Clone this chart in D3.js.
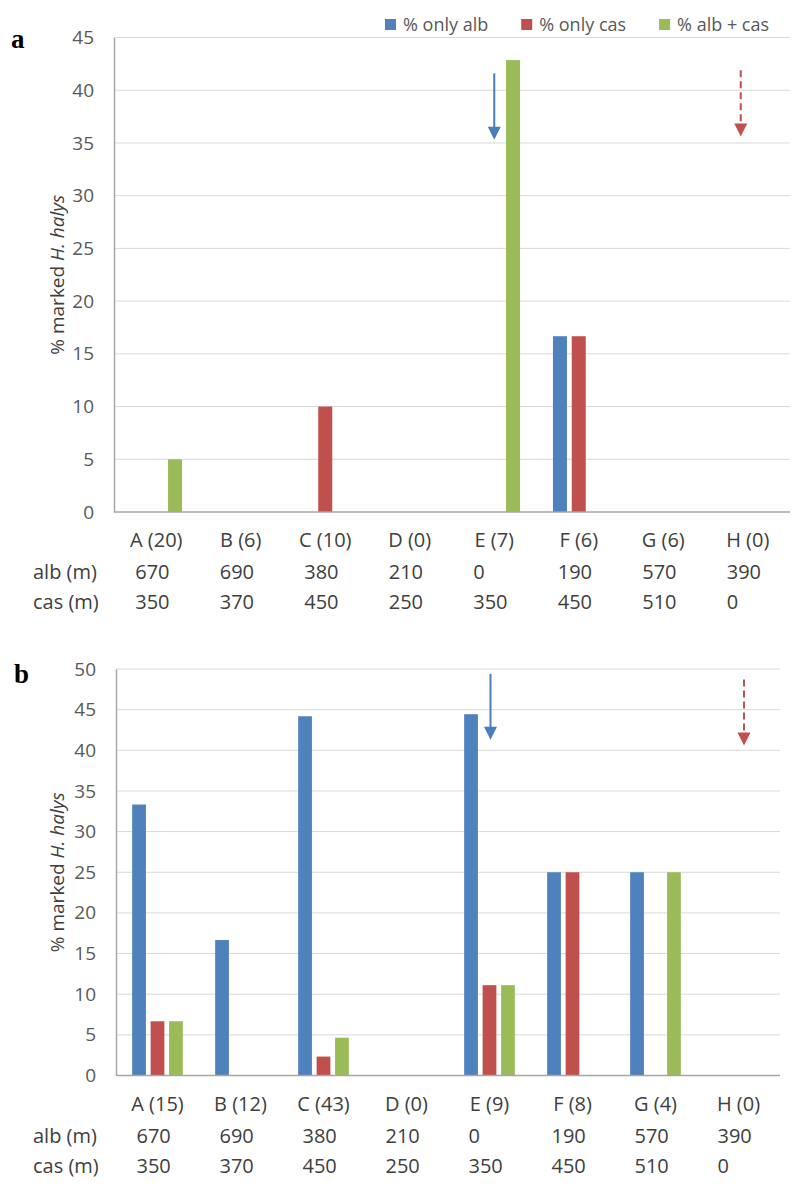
<!DOCTYPE html>
<html>
<head>
<meta charset="utf-8">
<script src="https://cdn.jsdelivr.net/npm/d3@7"></script>
<style>
  html, body { margin: 0; padding: 0; background: #fff; }
  svg { display: block; }
  text { font-family: "Open Sans", "Liberation Sans", sans-serif; }
</style>
</head>
<body>
<svg id="chart" width="799" height="1191"></svg>
<script>
// ---------------- DATA ----------------
const series = ["% only alb", "% only cas", "% alb + cas"];
const seriesColors = ["#4f81bd", "#c0504d", "#9bbb59"];

const categoriesA = ["A (20)", "B (6)", "C (10)", "D (0)", "E (7)", "F (6)", "G (6)", "H (0)"];
const onlyAlbA = [0, 0, 0, 0, 0, 16.67, 0, 0];
const onlyCasA = [0, 0, 10, 0, 0, 16.67, 0, 0];
const bothA    = [5, 0, 0, 0, 42.86, 0, 0, 0];
const yTicksA  = [0, 5, 10, 15, 20, 25, 30, 35, 40, 45];

const categoriesB = ["A (15)", "B (12)", "C (43)", "D (0)", "E (9)", "F (8)", "G (4)", "H (0)"];
const onlyAlbB = [33.33, 16.67, 44.19, 0, 44.44, 25, 25, 0];
const onlyCasB = [6.67, 0, 2.33, 0, 11.11, 25, 0, 0];
const bothB    = [6.67, 0, 4.65, 0, 11.11, 0, 25, 0];
const yTicksB  = [0, 5, 10, 15, 20, 25, 30, 35, 40, 45, 50];

const albDist = ["670", "690", "380", "210", "0", "190", "570", "390"];
const casDist = ["350", "370", "450", "250", "350", "450", "510", "0"];
const rowLabels = ["alb (m)", "cas (m)"];

// arrows: category index, value where the arrow starts and where its tip is
const arrowsA = [
  { cat: 4, from: 41.6, to: 35.3, color: "#4a7ebb", dashed: false },
  { cat: 7, from: 41.9, to: 35.6, color: "#c0504d", dashed: true }
];
const arrowsB = [
  { cat: 4, from: 49.4, to: 41.3, color: "#4a7ebb", dashed: false },
  { cat: 7, from: 48.7, to: 40.6, color: "#c0504d", dashed: true }
];

// ---------------- DRAW ----------------
const svg = d3.select("#chart");

function drawPanel(opt) {
  const g = svg.append("g");
  const x0 = d3.scaleBand().domain(d3.range(opt.categories.length))
    .range([opt.left, opt.right]).padding(0);
  const groupW = 56.4 * (x0.bandwidth() / 84.5);
  const x1 = d3.scaleBand().domain(d3.range(series.length))
    .range([x0.bandwidth() / 2 - groupW / 2, x0.bandwidth() / 2 + groupW / 2])
    .paddingInner(0.255).paddingOuter(0.1275);
  const y = d3.scaleLinear().domain([0, d3.max(opt.ticks)]).range([opt.bottom, opt.top]);

  // gridlines
  g.append("g").selectAll("line").data(opt.ticks.filter(t => t > 0)).join("line")
    .attr("x1", opt.left).attr("x2", opt.right)
    .attr("y1", d => y(d)).attr("y2", d => y(d))
    .attr("stroke", "#d9d9d9").attr("stroke-width", 1);

  // y axis via d3.axisLeft
  const yAxis = d3.axisLeft(y).tickValues(opt.ticks).tickSize(0).tickPadding(20).tickFormat(d3.format("d"));
  const ya = g.append("g").attr("transform", `translate(${opt.left},0)`).call(yAxis);
  ya.select(".domain").attr("stroke", "#a6a6a6").attr("stroke-width", 1.5);
  ya.selectAll("text").attr("font-size", 19).attr("fill", "#595959")
    .attr("font-family", "'Open Sans', sans-serif");

  // bars
  const values = opt.values;
  const barData = [];
  opt.categories.forEach((c, i) => {
    values.forEach((arr, s) => {
      if (arr[i] > 0) barData.push({ i, s, v: arr[i] });
    });
  });
  g.append("g").selectAll("rect").data(barData).join("rect")
    .attr("x", d => x0(d.i) + x1(d.s))
    .attr("width", x1.bandwidth())
    .attr("y", d => y(d.v))
    .attr("height", d => y(0) - y(d.v))
    .attr("fill", d => seriesColors[d.s]);

  // x axis line
  g.append("line").attr("x1", opt.left).attr("x2", opt.right)
    .attr("y1", y(0)).attr("y2", y(0))
    .attr("stroke", "#a6a6a6").attr("stroke-width", 1.5);

  // category labels
  const catY = y(0) + 28;
  g.append("g").selectAll("text").data(opt.categories).join("text")
    .attr("x", (d, i) => x0(i) + x0.bandwidth() / 2)
    .attr("y", catY).attr("dy", "0.35em")
    .attr("text-anchor", "middle")
    .attr("font-size", 20).attr("fill", "#404040")
    .text(d => d);

  // distance rows
  [albDist, casDist].forEach((row, r) => {
    const ry = catY + 32 + r * 30;
    g.append("text").attr("x", 33).attr("y", ry).attr("dy", "0.35em")
      .attr("font-size", 20).attr("fill", "#404040").text(rowLabels[r]);
    g.append("g").selectAll("text").data(row).join("text")
      .attr("x", (d, i) => x0(i) + x0.bandwidth() / 2 - 21)
      .attr("y", ry).attr("dy", "0.35em")
      .attr("font-size", 20).attr("fill", "#404040")
      .text(d => d);
  });

  // y-axis title
  const midY = (opt.top + opt.bottom) / 2;
  const t = g.append("text")
    .attr("transform", `translate(57,${midY}) rotate(-90)`)
    .attr("text-anchor", "middle").attr("dy", "0.35em")
    .attr("font-size", 19).attr("fill", "#404040");
  t.append("tspan").text("% marked ");
  t.append("tspan").attr("font-style", "italic").text("H. halys");

  // arrows
  opt.arrows.forEach(a => {
    const ax = x0(a.cat) + x0.bandwidth() / 2 + a.dx;
    const yTop = y(a.from), yTip = y(a.to);
    const headH = 13, headW = 13;
    g.append("line").attr("x1", ax).attr("x2", ax)
      .attr("y1", yTop).attr("y2", yTip - headH + 1)
      .attr("stroke", a.color).attr("stroke-width", 2)
      .attr("stroke-dasharray", a.dashed ? "7,4" : null);
    g.append("path")
      .attr("d", `M${ax - headW / 2},${yTip - headH} L${ax + headW / 2},${yTip - headH} L${ax},${yTip} Z`)
      .attr("fill", a.color);
  });

  // panel letter
  g.append("text").attr("x", opt.letterX).attr("y", opt.letterY)
    .style("font-family", "'Liberation Serif', 'DejaVu Serif', serif")
    .attr("font-weight", "bold").attr("font-size", 27).attr("fill", "#000")
    .text(opt.letter);

  return { x0, y };
}

drawPanel({
  categories: categoriesA, values: [onlyAlbA, onlyCasA, bothA], ticks: yTicksA,
  left: 114, right: 790, top: 37.5, bottom: 512,
  arrows: arrowsA.map((a, i) => Object.assign({ dx: i === 1 ? -7 : 0 }, a)),
  letter: "a", letterX: 11, letterY: 48
});
drawPanel({
  categories: categoriesB, values: [onlyAlbB, onlyCasB, bothB], ticks: yTicksB,
  left: 116, right: 780, top: 669, bottom: 1075.5,
  arrows: arrowsB.map((a, i) => Object.assign({ dx: i === 1 ? 5.5 : 1 }, a)),
  letter: "b", letterX: 14, letterY: 683
});

// legend (top of panel a)
const legend = svg.append("g");
let lx = 385;
series.forEach((s, i) => {
  legend.append("rect").attr("x", lx).attr("y", 19).attr("width", 11).attr("height", 11)
    .attr("fill", seriesColors[i]);
  const tx = legend.append("text").attr("x", lx + 18).attr("y", 25).attr("dy", "0.35em")
    .attr("font-size", 18).attr("fill", "#595959").text(s);
  lx = lx + 18 + tx.node().getComputedTextLength() + 33;
});
</script>
</body>
</html>
